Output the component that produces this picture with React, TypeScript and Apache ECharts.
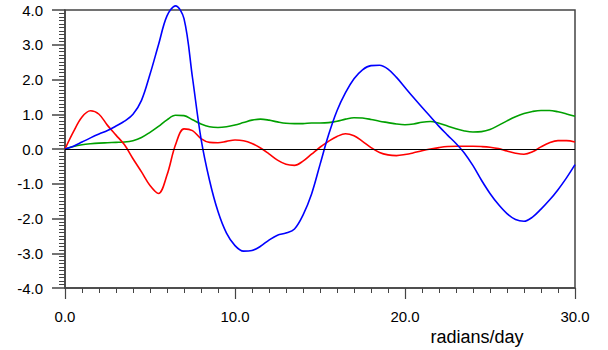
import React, { useEffect, useRef } from "react";
import * as echarts from "echarts";

const xValues = [
  0, 0.5, 1, 1.5, 2, 2.5, 3, 3.5, 4, 4.5, 5, 5.5, 6, 6.5, 7, 7.5, 8, 8.5, 9, 9.5,
  10, 10.5, 11, 11.5, 12, 12.5, 13, 13.5, 14, 14.5, 15, 15.5, 16, 16.5, 17, 17.5,
  18, 18.5, 19, 19.5, 20, 20.5, 21, 21.5, 22, 22.5, 23, 23.5, 24, 24.5, 25, 25.5,
  26, 26.5, 27, 27.5, 28, 28.5, 29, 29.5, 30,
];

const blueValues = [
  0, 0.08, 0.2, 0.32, 0.43, 0.53, 0.66, 0.8, 1.0, 1.4, 2.15, 3.0, 3.83, 4.12,
  3.75, 2.05, 0.3, -0.9, -1.8, -2.42, -2.78, -2.94, -2.92, -2.8, -2.62, -2.48, -2.42,
  -2.3, -1.9, -1.3, -0.45, 0.4, 1.1, 1.62, 2.02, 2.28, 2.4, 2.41, 2.3, 2.06, 1.77,
  1.48, 1.2, 0.93, 0.65, 0.4, 0.16, -0.12, -0.48, -0.9, -1.28, -1.6, -1.86, -2.03,
  -2.08, -1.96, -1.73, -1.47, -1.17, -0.83, -0.45,
];

const redValues = [
  0, 0.5, 0.92, 1.1, 1.0, 0.68, 0.4, 0.12, -0.28, -0.66, -1.05, -1.28, -0.75,
  0.12, 0.58, 0.53, 0.3, 0.19, 0.18, 0.22, 0.26, 0.24, 0.16, 0.03, -0.14, -0.32,
  -0.44, -0.47, -0.35, -0.15, 0.05, 0.22, 0.36, 0.44, 0.38, 0.22, 0.04, -0.1,
  -0.17, -0.19, -0.16, -0.11, -0.05, 0.0, 0.04, 0.07, 0.08, 0.08, 0.08, 0.07,
  0.05, 0.01, -0.06, -0.12, -0.15, -0.08, 0.06, 0.18, 0.24, 0.24, 0.2,
];

const greenValues = [
  0, 0.07, 0.12, 0.15, 0.17, 0.18, 0.19, 0.2, 0.24, 0.33, 0.48, 0.65, 0.84, 0.97,
  0.96, 0.84, 0.72, 0.64, 0.62, 0.64, 0.69, 0.76, 0.83, 0.86, 0.83, 0.78, 0.74,
  0.73, 0.73, 0.75, 0.75, 0.76, 0.8, 0.86, 0.9, 0.89, 0.85, 0.8, 0.76, 0.72, 0.7,
  0.72, 0.77, 0.79, 0.74, 0.66, 0.58, 0.52, 0.49, 0.5, 0.56, 0.68, 0.81, 0.93,
  1.02, 1.08, 1.11, 1.11, 1.07, 1.01, 0.94,
];

const xAxisTitle = "radians/day";
const FONT = "'Liberation Sans', Arial, Helvetica, sans-serif";

function pairs(ys: number[]) {
  return xValues.map((x, i) => [x, ys[i]]);
}

export default function App() {
  const ref = useRef<HTMLDivElement>(null);
  useEffect(() => {
    if (!ref.current) return;
    const chart = echarts.init(ref.current, undefined, { renderer: "svg" });
    const axisColor = "#444";
    const lineSeries = (name: string, ys: number[], color: string, extra: any = {}) => ({
      name,
      type: "line",
      data: pairs(ys),
      smooth: 0.35,
      symbol: "none",
      clip: false,
      lineStyle: { color, width: 1.6 },
      itemStyle: { color },
      ...extra,
    });
    chart.setOption({
      animation: false,
      textStyle: { fontFamily: FONT },
      grid: {
        left: 65,
        right: 33,
        top: 10,
        bottom: 62,
        show: true,
        borderColor: axisColor,
        borderWidth: 1.5,
        backgroundColor: "transparent",
      },
      xAxis: {
        type: "value",
        min: 0,
        max: 30,
        interval: 10,
        axisLine: { show: true, onZero: false, lineStyle: { color: axisColor, width: 1.5 } },
        axisTick: { show: true, inside: false, length: 11, lineStyle: { color: axisColor, width: 1.2 } },
        minorTick: { show: true, splitNumber: 10, length: 5, lineStyle: { color: axisColor, width: 1 } },
        splitLine: { show: false },
        minorSplitLine: { show: false },
        axisLabel: {
          margin: 21,
          fontSize: 15,
          color: "#000",
          fontFamily: FONT,
          formatter: (v: number) => v.toFixed(1),
        },
      },
      yAxis: {
        type: "value",
        min: -4,
        max: 4,
        interval: 1,
        axisLine: { show: true, onZero: false, lineStyle: { color: axisColor, width: 1.5 } },
        axisTick: { show: true, inside: false, length: 13, lineStyle: { color: axisColor, width: 1.5 } },
        minorTick: { show: true, splitNumber: 10, length: 6, lineStyle: { color: axisColor, width: 1 } },
        splitLine: { show: false },
        minorSplitLine: { show: false },
        axisLabel: {
          margin: 22,
          fontSize: 15,
          color: "#000",
          fontFamily: FONT,
          formatter: (v: number) => v.toFixed(1),
        },
      },
      graphic: [
        {
          type: "text",
          x: 477,
          y: 337,
          style: {
            text: xAxisTitle,
            fontSize: 18,
            fontFamily: FONT,
            fill: "#000",
            textAlign: "center",
            textVerticalAlign: "middle",
          },
        },
      ],
      series: [
        lineSeries("green", greenValues, "#00a000"),
        lineSeries("red", redValues, "#ff0000", {
          markLine: {
            silent: true,
            symbol: ["none", "none"],
            label: { show: false },
            lineStyle: { color: "#000", width: 1, type: "solid" },
            data: [{ yAxis: 0 }],
          },
        }),
        lineSeries("blue", blueValues, "#0000ff"),
      ],
    });
    return () => chart.dispose();
  }, []);
  return (
    <div
      ref={ref}
      style={{ position: "absolute", left: 0, top: 0, width: 608, height: 350 }}
    />
  );
}
